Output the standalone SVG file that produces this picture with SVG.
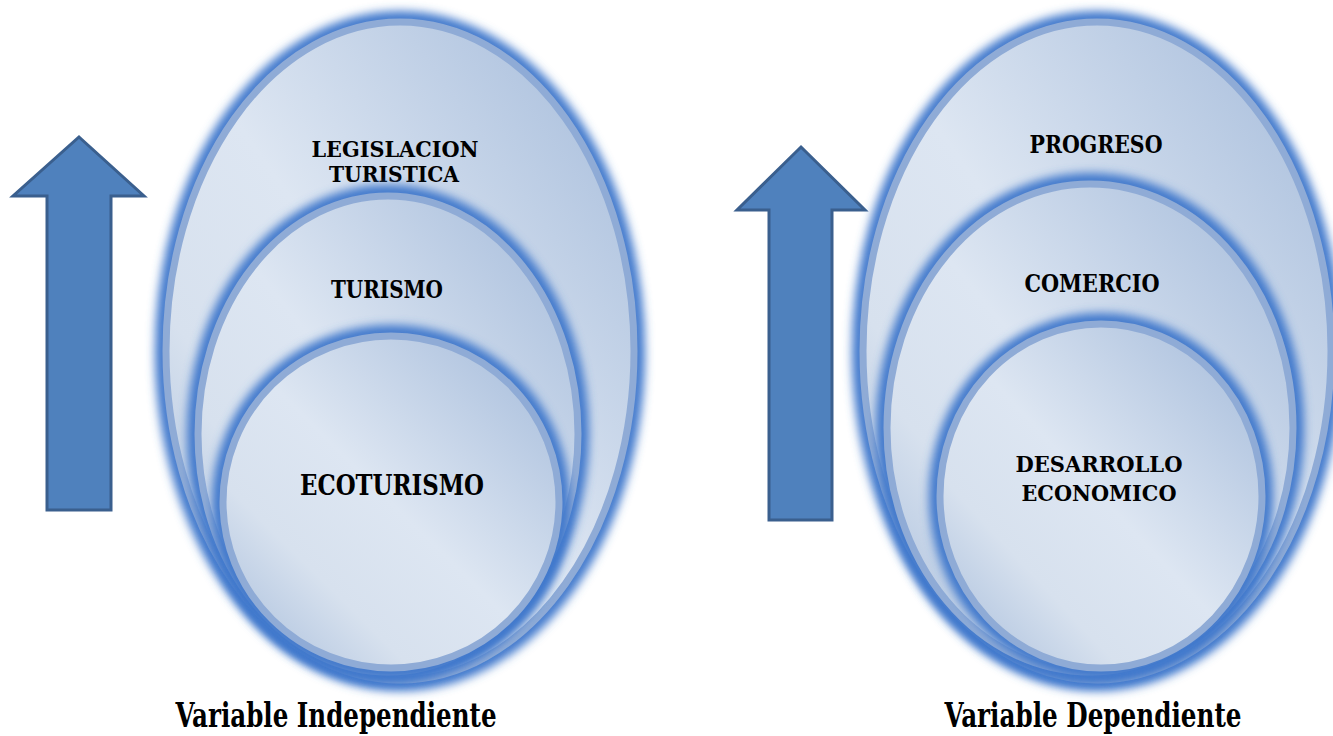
<svg xmlns="http://www.w3.org/2000/svg" width="1333" height="736" viewBox="0 0 1333 736">
<defs>
<linearGradient id="fillGrad" x1="1" y1="0" x2="0" y2="1">
<stop offset="0" stop-color="#a3bada"/>
<stop offset="0.5" stop-color="#dde6f2"/>
<stop offset="0.72" stop-color="#d7e1ee"/>
<stop offset="1" stop-color="#a3bada"/>
</linearGradient>
<filter id="glow" x="-10%" y="-10%" width="120%" height="120%">
<feGaussianBlur stdDeviation="5"/>
</filter>
<style>
.glow{fill:none;stroke:#3f78cc;stroke-width:16;filter:url(#glow)}
.disc{fill:url(#fillGrad);stroke:#8fabd6;stroke-width:7}
.arrow{fill:#4f81bd;stroke:#3a5f8e;stroke-width:3;stroke-linejoin:miter}
text{font-family:"DejaVu Serif Condensed","Liberation Serif","DejaVu Serif",serif;font-weight:bold;fill:#000000}
.lbl{font-size:22px;text-anchor:middle}
.big{font-size:25px}
.title{font-size:31px;text-anchor:middle}
</style>
</defs>
<rect width="1333" height="736" fill="#ffffff"/>

<g id="connectors">
<polygon id="arrow-left" class="arrow" points="79,137 144,196 111,196 111,510 47,510 47,196 13,196"/>
<polygon id="arrow-right" class="arrow" points="801,147 865,210 832,210 832,520 769,520 769,210 737,210"/>
</g>

<g id="node-legislacion">
<ellipse class="glow" cx="400" cy="351" rx="237" ry="332"/>
<ellipse class="disc" cx="400" cy="351" rx="234" ry="329"/>
<text class="lbl" transform="translate(395 157) scale(1 1.05)" textLength="167" lengthAdjust="spacingAndGlyphs">LEGISLACION</text>
<text class="lbl" transform="translate(394 182) scale(1 1.05)" textLength="130" lengthAdjust="spacingAndGlyphs">TURISTICA</text>
</g>
<g id="node-turismo">
<ellipse class="glow" cx="388" cy="434" rx="193" ry="241"/>
<ellipse class="disc" cx="388" cy="434" rx="190" ry="238"/>
<text class="lbl" transform="translate(387 298) scale(1 1.08)" textLength="112" lengthAdjust="spacingAndGlyphs">TURISMO</text>
</g>
<g id="node-ecoturismo">
<ellipse class="glow" cx="391" cy="502" rx="171" ry="169"/>
<ellipse class="disc" cx="391" cy="502" rx="168" ry="166"/>
<text class="lbl big" transform="translate(392 495) scale(1 1.08)" textLength="184" lengthAdjust="spacingAndGlyphs">ECOTURISMO</text>
</g>
<g id="title-left">
<text class="title" transform="translate(336 727) scale(1 1.1)" textLength="321" lengthAdjust="spacingAndGlyphs">Variable Independiente</text>
</g>

<g id="node-progreso">
<ellipse class="glow" cx="1097" cy="351" rx="237" ry="332"/>
<ellipse class="disc" cx="1097" cy="351" rx="234" ry="329"/>
<text class="lbl" transform="translate(1096 153) scale(1 1.08)" textLength="133" lengthAdjust="spacingAndGlyphs">PROGRESO</text>
</g>
<g id="node-comercio">
<ellipse class="glow" cx="1090" cy="428" rx="206" ry="247"/>
<ellipse class="disc" cx="1090" cy="428" rx="203" ry="244"/>
<text class="lbl" transform="translate(1092 292) scale(1 1.08)" textLength="135" lengthAdjust="spacingAndGlyphs">COMERCIO</text>
</g>
<g id="node-desarrollo">
<ellipse class="glow" cx="1101" cy="496" rx="164" ry="175"/>
<ellipse class="disc" cx="1101" cy="496" rx="161" ry="172"/>
<text class="lbl" transform="translate(1099 472) scale(1 1.05)" textLength="167" lengthAdjust="spacingAndGlyphs">DESARROLLO</text>
<text class="lbl" transform="translate(1099 501) scale(1 1.05)" textLength="155" lengthAdjust="spacingAndGlyphs">ECONOMICO</text>
</g>
<g id="title-right">
<text class="title" transform="translate(1093 727) scale(1 1.1)" textLength="297" lengthAdjust="spacingAndGlyphs">Variable Dependiente</text>
</g>
</svg>
